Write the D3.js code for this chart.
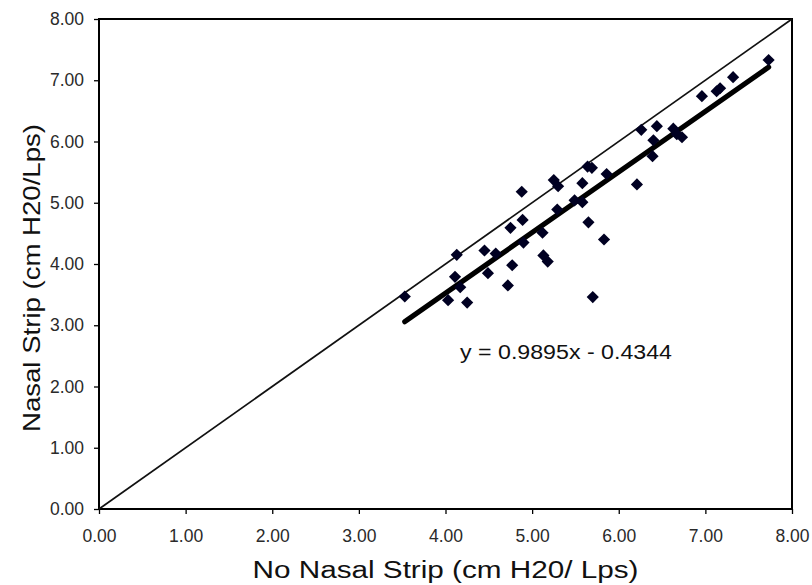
<!DOCTYPE html>
<html lang="en">
<head>
<meta charset="UTF-8">
<title>Nasal Strip vs No Nasal Strip</title>
<style>
  body { margin: 0; background: #fff; }
  text { font-family: Arial, "Liberation Sans", sans-serif; }
</style>
</head>
<body>
<svg width="812" height="585"></svg>
<script src="https://d3js.org/d3.v7.min.js"></script>
<script>
// resistance without the strip (x) and with the strip (y), cm H20/Lps
var noStrip   = [3.53, 4.03, 4.25, 4.17, 4.11, 4.13, 4.45, 4.49, 4.58, 4.77,
                 4.72, 4.75, 4.89, 4.88, 4.90, 5.12, 5.13, 5.18, 5.25, 5.30,
                 5.29, 5.49, 5.58, 5.58, 5.64, 5.69, 5.65, 5.70, 5.83, 5.86,
                 6.21, 6.26, 6.39, 6.40, 6.44, 6.63, 6.67, 6.73, 6.96, 7.13,
                 7.17, 7.32, 7.73];
var withStrip = [3.47, 3.41, 3.37, 3.62, 3.79, 4.15, 4.22, 3.85, 4.17, 3.98,
                 3.65, 4.59, 4.72, 5.18, 4.35, 4.51, 4.14, 4.04, 5.37, 5.27,
                 4.89, 5.04, 5.01, 5.32, 5.59, 5.57, 4.68, 3.46, 4.40, 5.47,
                 5.30, 6.19, 5.76, 6.02, 6.25, 6.21, 6.12, 6.07, 6.74, 6.82,
                 6.87, 7.05, 7.33];
var tickValues = [0, 1, 2, 3, 4, 5, 6, 7, 8];
var slope = 0.9895, intercept = -0.4344;
var equationLabel = "y = 0.9895x - 0.4344";
var xTitle = "No Nasal Strip (cm H20/ Lps)";
var yTitle = "Nasal Strip (cm H20/Lps)";

var svg = d3.select("svg"),
    margin = {top: 19, right: 20, bottom: 76, left: 99},
    width  = +svg.attr("width") - margin.left - margin.right,
    height = +svg.attr("height") - margin.top - margin.bottom,
    g = svg.append("g").attr("transform", "translate(" + margin.left + "," + margin.top + ")");

var x = d3.scaleLinear().domain([0, 8]).range([0, width]),
    y = d3.scaleLinear().domain([0, 8]).range([height, 0]);

var fmt = d3.format(".2f");

// axes
var xAxis = g.append("g")
    .attr("transform", "translate(0," + height + ")")
    .call(d3.axisBottom(x).tickValues(tickValues).tickFormat(fmt).tickSize(5).tickPadding(16));
var yAxis = g.append("g")
    .call(d3.axisLeft(y).tickValues(tickValues).tickFormat(fmt).tickSize(5).tickPadding(10));

[xAxis, yAxis].forEach(function(a) {
  a.select(".domain").remove();
  a.selectAll(".tick line").attr("stroke", "#000").attr("stroke-width", 1.3);
  a.selectAll(".tick text")
    .attr("fill", "#2a2a2a")
    .style("font-size", "17.5px")
    .style("font-family", "Arial, 'Liberation Sans', sans-serif");
});

// plot frame
g.append("rect")
  .attr("width", width)
  .attr("height", height)
  .attr("fill", "none")
  .attr("stroke", "#000")
  .attr("stroke-width", 2);

// line of identity
g.append("line")
  .attr("x1", x(0)).attr("y1", y(0))
  .attr("x2", x(8)).attr("y2", y(8))
  .attr("stroke", "#111")
  .attr("stroke-width", 1.7);

// linear trendline over the x range of the data
var xMin = d3.min(noStrip), xMax = d3.max(noStrip);
g.append("line")
  .attr("x1", x(xMin)).attr("y1", y(slope * xMin + intercept))
  .attr("x2", x(xMax)).attr("y2", y(slope * xMax + intercept))
  .attr("stroke", "#000")
  .attr("stroke-width", 5.2)
  .attr("stroke-linecap", "round");

// diamond markers
var diamond = d3.symbol().type(d3.symbolSquare).size(74);
g.selectAll(".pt")
  .data(noStrip.map(function(v, i) { return {x: v, y: withStrip[i]}; }))
  .enter().append("path")
    .attr("class", "pt")
    .attr("d", diamond)
    .attr("transform", function(d) { return "translate(" + x(d.x) + "," + y(d.y) + ") rotate(45)"; })
    .attr("fill", "#000022");

// equation
svg.append("text")
  .attr("x", 460)
  .attr("y", 359)
  .attr("textLength", 212)
  .attr("lengthAdjust", "spacingAndGlyphs")
  .style("font-size", "20px")
  .attr("fill", "#111")
  .text(equationLabel);

// axis titles
svg.append("text")
  .attr("x", margin.left + width / 2 - 193)
  .attr("y", 578)
  .attr("textLength", 386)
  .attr("lengthAdjust", "spacingAndGlyphs")
  .style("font-size", "23px")
  .attr("fill", "#111")
  .text(xTitle);

svg.append("text")
  .attr("transform", "translate(40,432) rotate(-90)")
  .attr("textLength", 308)
  .attr("lengthAdjust", "spacingAndGlyphs")
  .style("font-size", "24px")
  .attr("fill", "#111")
  .text(yTitle);
</script>
</body>
</html>
